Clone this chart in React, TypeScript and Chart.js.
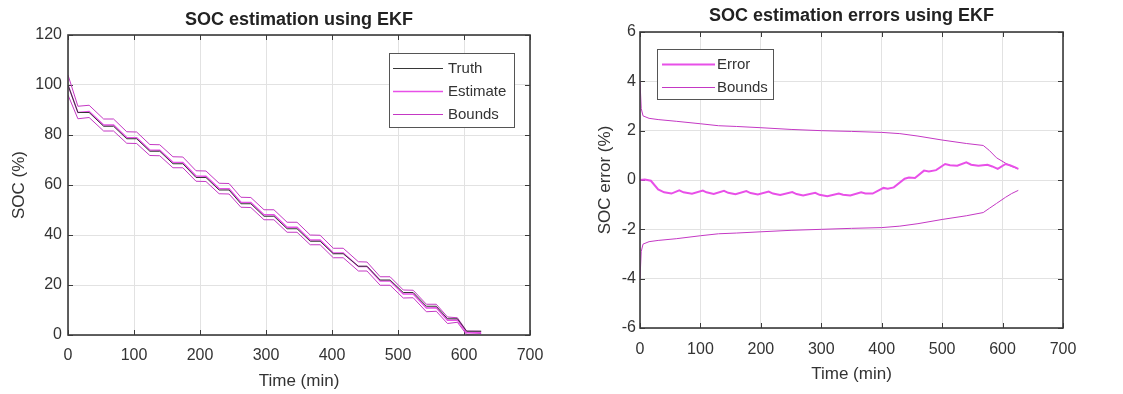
import React, { useEffect, useRef } from 'react';
import { Chart, registerables } from 'chart.js';

Chart.register(...registerables);

// ---------------- Left chart: SOC estimation ----------------
const socTime = [0, 15, 32, 54, 69, 89, 104, 124, 139, 159, 174, 194, 209, 229, 244, 262, 277, 297, 312, 332, 347, 367, 382, 402, 417, 440, 453, 473, 488, 508, 523, 543, 558, 575, 590, 604, 626];
const socTruth = [100, 89, 89, 83.5, 83.5, 78.5, 78.5, 73.5, 73.5, 68.5, 68.5, 63, 63, 58, 58, 52.5, 52.5, 47.5, 47.5, 42.5, 42.5, 37.5, 37.5, 32.5, 32.5, 27.5, 27.5, 22, 22, 17, 17, 11.5, 11.5, 6.5, 6.5, 1.5, 1.5];
const socEstimate = [100, 89.0, 89.4, 84.0, 84.0, 79.0, 78.9, 74.0, 73.9, 69.1, 69.0, 63.6, 63.5, 58.6, 58.5, 53.1, 53.0, 48.1, 48.1, 43.1, 43.1, 38.0, 38.0, 32.8, 32.8, 27.4, 27.4, 21.6, 21.6, 16.4, 16.4, 10.8, 10.9, 5.9, 6.0, 0.9, 1.0];
const socUpper = [104, 91.5, 91.9, 86.4, 86.4, 81.3, 81.2, 76.2, 76.1, 71.3, 71.2, 65.7, 65.6, 60.7, 60.6, 55.1, 55.0, 50.1, 50.1, 45.1, 45.1, 40.0, 39.9, 34.7, 34.7, 29.3, 29.2, 23.3, 23.3, 18.0, 17.9, 12.3, 12.3, 7.2, 6.9, 1.6, 1.5];
const socLower = [96, 86.5, 87.0, 81.6, 81.6, 76.7, 76.6, 71.8, 71.7, 66.9, 66.9, 61.5, 61.4, 56.5, 56.4, 51.1, 51.0, 46.1, 46.1, 41.1, 41.1, 36.1, 36.1, 30.9, 30.9, 25.6, 25.6, 19.9, 19.9, 14.8, 14.9, 9.3, 9.5, 4.6, 5.1, 0.2, 0.6];

// ---------------- Right chart: SOC estimation errors ----------------
const errTime = [0, 8, 18, 30, 40, 52, 65, 72, 86, 104, 110, 122, 139, 146, 158, 176, 183, 195, 213, 220, 232, 252, 259, 270, 290, 297, 310, 329, 336, 348, 366, 373, 385, 403, 410, 420, 438, 445, 455, 470, 478, 490, 505, 513, 525, 540, 548, 560, 575, 583, 592, 605, 612, 620, 626];
const errValues = [0, 0.02, -0.03, -0.38, -0.5, -0.55, -0.42, -0.5, -0.56, -0.43, -0.5, -0.57, -0.44, -0.52, -0.58, -0.45, -0.53, -0.59, -0.47, -0.55, -0.61, -0.49, -0.57, -0.63, -0.52, -0.6, -0.66, -0.55, -0.6, -0.63, -0.5, -0.55, -0.55, -0.32, -0.35, -0.3, 0.05, 0.1, 0.08, 0.38, 0.35, 0.4, 0.65, 0.6, 0.58, 0.72, 0.62, 0.58, 0.62, 0.55, 0.45, 0.65, 0.6, 0.52, 0.45];
const boundTime = [0, 2, 5, 15, 30, 60, 100, 130, 160, 200, 250, 300, 350, 400, 430, 460, 500, 540, 568, 578, 590, 605, 615, 626];
const boundUpper = [4.0, 2.9, 2.6, 2.5, 2.45, 2.38, 2.28, 2.2, 2.17, 2.12, 2.05, 2.0, 1.97, 1.93, 1.88, 1.78, 1.62, 1.48, 1.4, 1.2, 0.9, 0.68, 0.55, 0.45];
const boundLower = [-4.0, -2.9, -2.6, -2.5, -2.45, -2.38, -2.26, -2.18, -2.15, -2.1, -2.04, -2.0, -1.96, -1.93, -1.87, -1.77, -1.6, -1.45, -1.32, -1.15, -0.95, -0.7, -0.55, -0.42];

const FONT = '"Liberation Sans", Arial, Helvetica, sans-serif';
const TEXT = '#333333';
const AXIS = '#3a3a3a';
const GRID = '#e2e2e2';
const TRUTH_COLOR = 'rgb(55,55,55)';
const EST_COLOR = 'rgb(232,80,232)';
const BOUND_COLOR = 'rgb(196,56,196)';

const pts = (xs: number[], ys: number[]) => xs.map((x, i) => ({ x, y: ys[i] }));

const matlabPlugin = {
  id: 'matlab',
  beforeDatasetsDraw(chart: any, _a: any, opts: any) {
    const { ctx, chartArea: a, scales } = chart;
    const L = opts.tickLen ?? 5;
    ctx.save();
    ctx.strokeStyle = AXIS;
    ctx.lineWidth = 1;
    ctx.beginPath();
    scales.x.ticks.forEach((t: any) => {
      const px = Math.round(scales.x.getPixelForValue(t.value)) + 0.5;
      ctx.moveTo(px, a.bottom);
      ctx.lineTo(px, a.bottom - L);
      ctx.moveTo(px, a.top);
      ctx.lineTo(px, a.top + L);
    });
    scales.y.ticks.forEach((t: any) => {
      const py = Math.round(scales.y.getPixelForValue(t.value)) + 0.5;
      ctx.moveTo(a.left, py);
      ctx.lineTo(a.left + L, py);
      ctx.moveTo(a.right, py);
      ctx.lineTo(a.right - L, py);
    });
    ctx.stroke();
    ctx.restore();
  },
  afterDatasetsDraw(chart: any) {
    const { ctx, chartArea: a } = chart;
    ctx.save();
    ctx.strokeStyle = AXIS;
    ctx.lineWidth = 1.6;
    ctx.strokeRect(a.left, a.top, a.right - a.left, a.bottom - a.top);
    ctx.restore();
  },
  afterDraw(chart: any, _a: any, opts: any) {
    const { ctx, chartArea: a } = chart;
    ctx.save();
    // title
    if (opts.title) {
      ctx.font = `bold ${opts.titleSize}px ${FONT}`;
      ctx.fillStyle = '#222222';
      ctx.textAlign = 'center';
      ctx.textBaseline = 'middle';
      ctx.fillText(opts.title, (a.left + a.right) / 2, opts.titleY);
    }
    // legend
    const lg = opts.legend;
    if (lg) {
      ctx.fillStyle = '#ffffff';
      ctx.fillRect(lg.x, lg.y, lg.w, lg.h);
      ctx.strokeStyle = '#555555';
      ctx.lineWidth = 1;
      ctx.strokeRect(lg.x + 0.5, lg.y + 0.5, lg.w, lg.h);
      const items = chart.data.datasets.filter((d: any) => d.inLegend);
      ctx.font = `${lg.fontSize}px ${FONT}`;
      ctx.textAlign = 'left';
      ctx.textBaseline = 'middle';
      items.forEach((d: any, i: number) => {
        const y = lg.rows[i];
        ctx.strokeStyle = d.borderColor;
        ctx.lineWidth = d.borderWidth;
        ctx.beginPath();
        ctx.moveTo(lg.x0, y + 0.5);
        ctx.lineTo(lg.x1, y + 0.5);
        ctx.stroke();
        ctx.fillStyle = TEXT;
        ctx.fillText(d.label, lg.tx, y + 1);
      });
    }
    ctx.restore();
  },
};

function makeConfig(p: any) {
  return {
    type: 'line',
    data: { datasets: p.datasets },
    options: {
      responsive: false,
      animation: false,
      events: [],
      layout: { padding: p.padding },
      elements: { point: { radius: 0 }, line: { tension: 0 } },
      plugins: {
        legend: { display: false },
        tooltip: { enabled: false },
        title: { display: false },
        matlab: { title: p.title, titleY: p.titleY, titleSize: 18, legend: p.legend, tickLen: 5 },
      },
      scales: {
        x: {
          type: 'linear',
          min: 0,
          max: 700,
          ticks: { stepSize: 100, color: TEXT, font: { size: 16, family: FONT }, padding: p.xTickPad, maxRotation: 0 },
          grid: { color: GRID, drawTicks: false, lineWidth: 1 },
          border: { display: false },
          title: { display: true, text: 'Time (min)', color: TEXT, font: { size: 17, family: FONT }, padding: { top: 0, bottom: p.xTitlePad } },
          afterFit: (s: any) => { s.height = p.xHeight; },
        },
        y: {
          type: 'linear',
          min: p.yMin,
          max: p.yMax,
          ticks: { stepSize: p.yStep, color: TEXT, font: { size: 16, family: FONT }, padding: p.yTickPad },
          grid: { color: GRID, drawTicks: false, lineWidth: 1 },
          border: { display: false },
          title: { display: true, text: p.yTitle, color: TEXT, font: { size: 17, family: FONT }, padding: { top: p.yTitlePad, bottom: 0 } },
          afterFit: (s: any) => { s.width = p.yWidth; },
        },
      },
    },
    plugins: [matlabPlugin],
  } as any;
}

function ChartCanvas({ config, width, left }: { config: any; width: number; left: number }) {
  const ref = useRef<HTMLCanvasElement | null>(null);
  useEffect(() => {
    if (!ref.current) return;
    const chart = new Chart(ref.current, config);
    return () => chart.destroy();
  }, [config]);
  return (
    <canvas
      ref={ref}
      width={width}
      height={394}
      style={{ position: 'absolute', left, top: 0, width, height: 394 }}
    />
  );
}

const leftConfig = makeConfig({
  title: 'SOC estimation using EKF',
  titleY: 20.5,
  padding: { top: 35, right: 31, bottom: 0, left: 0 },
  xHeight: 59,
  yWidth: 68,
  xTickPad: 11,
  yTickPad: 6,
  xTitlePad: 2,
  yTitlePad: 9,
  yMin: 0,
  yMax: 120,
  yStep: 20,
  yTitle: 'SOC (%)',
  legend: { x: 389, y: 53, w: 125, h: 74, x0: 393, x1: 443, tx: 448, rows: [68, 91, 114], fontSize: 15 },
  datasets: [
    { label: 'Truth', inLegend: true, data: pts(socTime, socTruth), borderColor: TRUTH_COLOR, borderWidth: 1, order: 0 },
    { label: 'Estimate', inLegend: true, data: pts(socTime, socEstimate), borderColor: EST_COLOR, borderWidth: 1.4, order: 1 },
    { label: 'Bounds', inLegend: true, data: pts(socTime, socUpper), borderColor: BOUND_COLOR, borderWidth: 1, order: 2 },
    { label: 'Bounds', inLegend: false, data: pts(socTime, socLower), borderColor: BOUND_COLOR, borderWidth: 1, order: 2 },
  ],
});

const rightConfig = makeConfig({
  title: 'SOC estimation errors using EKF',
  titleY: 16.5,
  padding: { top: 32, right: 60, bottom: 0, left: 0 },
  xHeight: 66,
  yWidth: 79,
  xTickPad: 12,
  yTickPad: 4,
  xTitlePad: 9,
  yTitlePad: 34,
  yMin: -6,
  yMax: 6,
  yStep: 2,
  yTitle: 'SOC error (%)',
  legend: { x: 96, y: 49, w: 116, h: 50, x0: 101, x1: 154, tx: 156, rows: [64, 87], fontSize: 15 },
  datasets: [
    { label: 'Error', inLegend: true, data: pts(errTime, errValues), borderColor: EST_COLOR, borderWidth: 2, order: 0 },
    { label: 'Bounds', inLegend: true, data: pts(boundTime, boundUpper), borderColor: BOUND_COLOR, borderWidth: 1, order: 1 },
    { label: 'Bounds', inLegend: false, data: pts(boundTime, boundLower), borderColor: BOUND_COLOR, borderWidth: 1, order: 1 },
  ],
});

export default function App() {
  return (
    <div style={{ position: 'fixed', left: 0, top: 0, width: 1123, height: 394, background: '#ffffff', overflow: 'hidden' }}>
      <ChartCanvas config={leftConfig} width={561} left={0} />
      <ChartCanvas config={rightConfig} width={562} left={561} />
    </div>
  );
}
